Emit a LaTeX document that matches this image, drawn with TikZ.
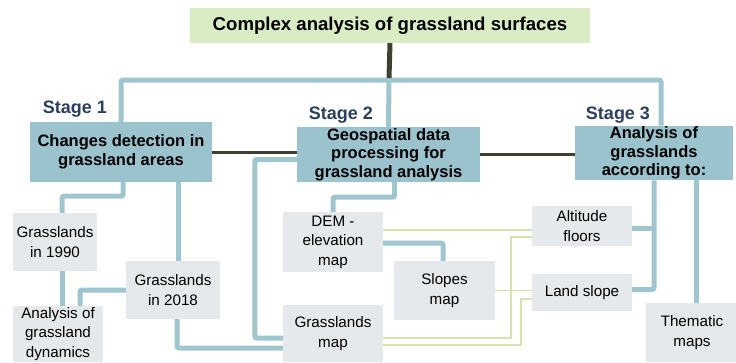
\documentclass[tikz,border=0pt]{standalone}
\usepackage{fontspec}
\setmainfont{Liberation Sans}
\definecolor{barblue}{HTML}{9FC5CE}
\definecolor{stagefill}{HTML}{9AC3CD}
\definecolor{leaffill}{HTML}{E6E9EB}
\definecolor{titlefill}{HTML}{D9ECC4}
\definecolor{darkbar}{HTML}{3F4030}
\definecolor{thingreen}{HTML}{D3E5AE}
\definecolor{stageink}{HTML}{2B3F5E}

\begin{document}
\begin{tikzpicture}[
    x=1pt, y=-1pt,
    stagebox/.style={fill=stagefill, align=center, inner sep=1pt, font=\fontsize{16.5}{18.5}\selectfont\bfseries},
    leaf/.style={fill=leaffill, align=center, inner sep=1pt, font=\fontsize{15.2}{19.5}\selectfont},
    stagelabel/.style={text=stageink, font=\fontsize{18}{20}\selectfont\bfseries},
    bar/.style={barblue, line width=5pt, rounded corners=2pt},
    thin/.style={thingreen, line width=1.5pt}
]
    \useasboundingbox (0,0) rectangle (736,362);

    \node[fill=titlefill, minimum width=400pt, minimum height=35pt, font=\fontsize{18.6}{20}\selectfont\bfseries] (top) at (390,25.5) {Complex analysis of grassland surfaces};

    \node[stagelabel] (lab1) at (75,109) {Stage 1};
    \node[stagelabel] (lab2) at (341,115) {Stage 2};
    \node[stagelabel] (lab3) at (618,115) {Stage 3};

    \node[stagebox, minimum width=182pt, minimum height=60pt] (s1) at (121,152) {Changes detection in\\grassland areas};
    \node[stagebox, minimum width=183pt, minimum height=55pt] (s2) at (388.5,154.5) {Geospatial data\\processing for\\grassland analysis};
    \node[stagebox, minimum width=158pt, minimum height=52pt] (s3) at (654,153) {Analysis of\\grasslands\\according to:};

    \node[leaf, minimum width=84pt, minimum height=58pt] (g1990) at (55,242) {Grasslands\\in 1990};
    \node[leaf, minimum width=94pt, minimum height=58pt] (g2018) at (173,290) {Grasslands\\in 2018};
    \node[leaf, minimum width=90pt, minimum height=56pt] (dyn) at (58,334) {Analysis of\\grassland\\dynamics};
    \node[leaf, minimum width=100pt, minimum height=60pt] (dem) at (333,242) {DEM -\\elevation\\map};
    \node[leaf, minimum width=101pt, minimum height=59pt] (slopes) at (444.5,290.5) {Slopes\\map};
    \node[leaf, minimum width=100pt, minimum height=57pt] (gmap) at (333,333.5) {Grasslands\\map};
    \node[leaf, minimum width=100pt, minimum height=40pt] (alt) at (582,226) {Altitude\\floors};
    \node[leaf, minimum width=100pt, minimum height=37pt] (land) at (582,292.5) {Land slope};
    \node[leaf, minimum width=92pt, minimum height=59pt] (thm) at (692,332.5) {Thematic\\maps};

    \coordinate (hub) at (389,80);

    % main tree
    \draw[bar] (s1.north) |- (hub) -| ([xshift=7pt]s3.north);
    \draw[bar] (hub) -- (s2.north);
    \draw[darkbar, line width=5pt] (top.south) -- ([yshift=2pt]hub);
    \draw[darkbar, line width=3pt] (s1.east) -- (s1.east -| s2.west);
    \draw[darkbar, line width=3pt] (s2.east) -- (s2.east -| s3.west);

    % stage 1
    \draw[bar] ([xshift=2pt]s1.south) -- ++(0,14) -| ([xshift=7pt]g1990.north);
    \draw[bar] ([xshift=57pt]s1.south) -- ([xshift=57pt]s1.south |- g2018.north);
    \draw[bar] ([xshift=7pt]g1990.south) -- ([xshift=7pt]g1990.south |- dyn.north);
    \draw[bar] (g2018.west) -| ([xshift=22pt]dyn.north);
    \draw[bar] ([xshift=4pt]g2018.south) |- ([yshift=-14.5pt]gmap.west);

    % stage 2
    \draw[bar] ([yshift=-5pt]s2.west) -- ++(-42,0) |- ([yshift=-4.5pt]gmap.west);
    \draw[bar] ([xshift=6pt]s2.south) -- ++(0,15) -| (dem.north);
    \draw[bar] ([yshift=-1pt]dem.east) -| ([xshift=-1.5pt]slopes.north);

    % stage 3
    \draw[bar] (s3.south) |- ([yshift=3pt]land.east);
    \draw[bar] ([yshift=-2pt]alt.east) -- ([yshift=-2pt]alt.east -| s3.south);
    \draw[bar] ([xshift=42pt]s3.south) -- ([xshift=42pt]s3.south |- thm.north);

    % thin links
    \draw[thin] ([yshift=-4pt]alt.west -| dem.east) -- ([yshift=-4pt]alt.west);
    \draw[thin] (slopes.east) -- (slopes.east -| land.west);
    \draw[thin] ([yshift=-4.5pt]gmap.east) -- ++(128,0) |- ([yshift=-11pt]alt.west);
    \draw[thin] ([yshift=-11.5pt]gmap.east) -- ++(138,0) |- ([yshift=-6.5pt]land.west);
\end{tikzpicture}
\end{document}
